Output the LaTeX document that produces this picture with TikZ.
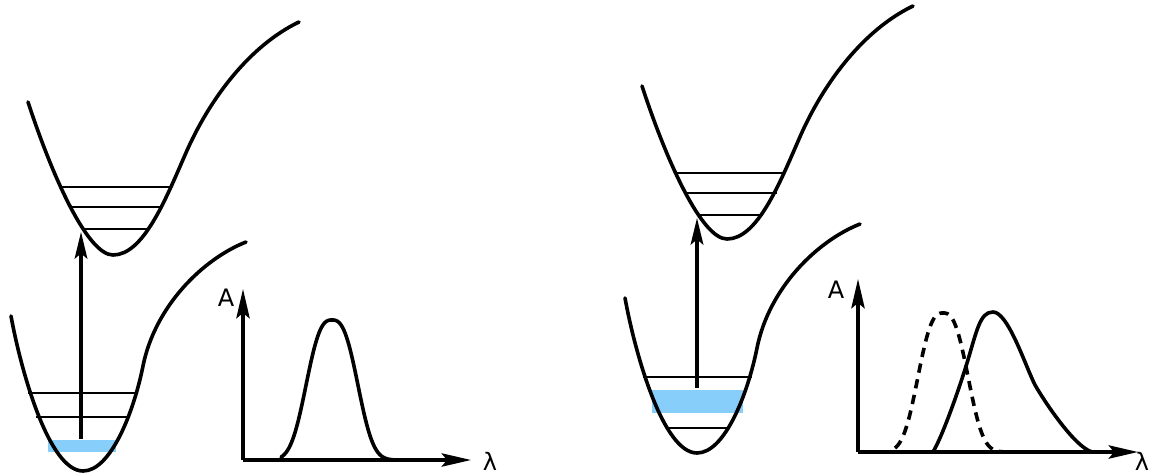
\documentclass[tikz,border=0pt]{standalone}
\usepackage{fontspec}
\setmainfont{DejaVu Sans}
\usetikzlibrary{arrows.meta}
\definecolor{bandblue}{HTML}{87CEFA}
\tikzset{
  pes/.style={line width=2.7pt, line join=round, line cap=round},
  lvl/.style={line width=2pt},
  bandfill/.style={fill=bandblue, draw=none},
  axisarrow/.style={line width=2.5pt, -{Stealth[length=22pt,width=10pt,inset=4pt]}},
  transarrow/.style={line width=2.5pt, -{Stealth[length=20pt,width=9.5pt,inset=4pt]}},
  spec/.style={line width=2.7pt, line cap=round},
  specdash/.style={line width=2.7pt, dash pattern=on 7pt off 5pt},
  lab/.style={font=\fontsize{18}{21}\selectfont, inner sep=0pt}
}
\begin{document}
\begin{tikzpicture}[x=0.75pt,y=-0.75pt]
\useasboundingbox (0,0) rectangle (1151,475);

% ===== LEFT PANEL =====
\fill[bandfill] (48,440) rectangle (116,452);
% upper well
\draw[pes,shift={(113,255)}] (-85,-153) .. controls (-60,-76.5) and (-25,0) .. (0,0)
  .. controls (30,0) and (52,-54) .. (72,-100)
  .. controls (97,-158) and (138,-210) .. (186,-233);
% lower well
\draw[pes,shift={(83,471)}] (-72,-155) .. controls (-62,-100) and (-34,0) .. (0,0)
  .. controls (28,0) and (51,-60) .. (60,-105)
  .. controls (72,-165) and (120,-212) .. (163,-229);
% vibrational levels
\draw[lvl] (61,187) -- (170,187);
\draw[lvl] (71,207) -- (163,207);
\draw[lvl] (82,229) -- (149,229);
\draw[lvl] (28,393) -- (137,393);
\draw[lvl] (36,417) -- (128,417);
% transition
\coordinate (g1) at (81,439);
\coordinate (e1) at (81,232);
\draw[transarrow] (g1) -- (e1);
% spectrum axes
\coordinate (o1) at (243,460);
\coordinate (ya1) at (243,289);
\coordinate (xa1) at (471,460);
\draw[axisarrow] (o1) -- (ya1);
\draw[axisarrow] (o1) -- (xa1);
\node[lab] (A1) at (226,298) {A};
\node[lab] (L1) at (490,461) {λ};
% absorption band
\draw[spec] plot[domain=281:393, samples=90, smooth] (\x, {460-140*exp(-1*pow((abs(\x-332)+0.01)/30.9,2.7))});

% ===== RIGHT PANEL =====
\fill[bandfill] (652,390) rectangle (743,413);
\draw[pes,shift={(727,239)}] (-85,-153) .. controls (-60,-76.5) and (-25,0) .. (0,0)
  .. controls (30,0) and (52,-54) .. (72,-100)
  .. controls (97,-158) and (138,-210) .. (186,-233);
\draw[pes,shift={(697,453)}] (-72,-155) .. controls (-62,-100) and (-34,0) .. (0,0)
  .. controls (28,0) and (51,-60) .. (60,-105)
  .. controls (72,-165) and (120,-212) .. (163,-229);
\draw[lvl] (677,173) -- (785,173);
\draw[lvl] (687,193) -- (777,193);
\draw[lvl] (697,215) -- (763,215);
\draw[lvl] (643,377) -- (752,377);
\draw[lvl] (668,428) -- (730,428);
\coordinate (g2) at (697,388);
\coordinate (e2) at (697,218);
\draw[transarrow] (g2) -- (e2);
\coordinate (o2) at (858,452);
\coordinate (ya2) at (858,279);
\coordinate (xa2) at (1138,452);
\draw[axisarrow] (o2) -- (ya2);
\draw[axisarrow] (o2) -- (xa2);
\node[lab] (A2) at (836,290) {A};
\node[lab] (L2) at (1142,461) {λ};
% dashed (absorption) and solid (shifted) bands
\draw[specdash] plot[domain=895:1005, samples=90, smooth] (\x, {452-139*exp(-1*pow((abs(\x-943)+0.01)/30,2.7))});
\draw[spec] (933,452) .. controls (943,435) and (959,389) .. (967,363)
  .. controls (977,330) and (980,312) .. (993,312)
  .. controls (1008,312) and (1025,365) .. (1035,385)
  .. controls (1046,404) and (1075,447) .. (1092,452);
\end{tikzpicture}
\end{document}
